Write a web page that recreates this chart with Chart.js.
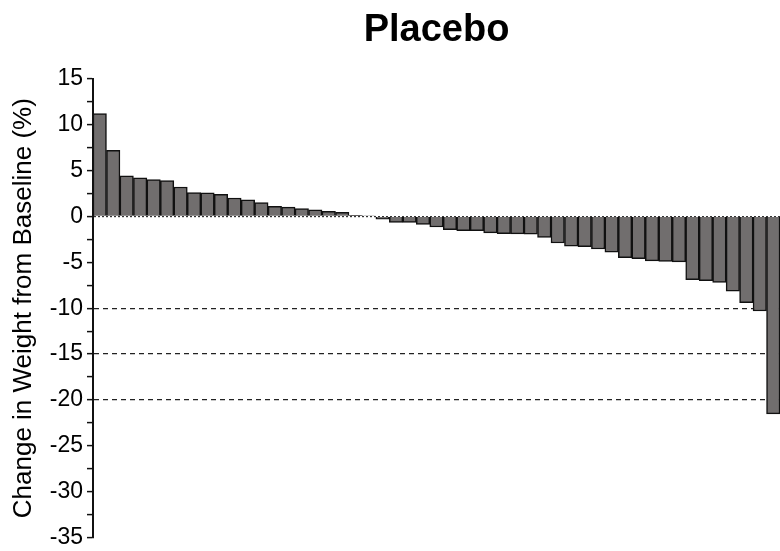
<!DOCTYPE html>
<html>
<head>
<meta charset="utf-8">
<script src="https://cdn.jsdelivr.net/npm/chart.js@4/dist/chart.umd.min.js"></script>
<style>
  html, body { margin: 0; padding: 0; background: #fff; }
  canvas { display: block; }
</style>
</head>
<body>
<canvas id="waterfallChart" width="780" height="551"></canvas>
<script>
// one bar per patient, sorted from largest gain to largest loss
const patients = Array.from({ length: 51 }, (_, i) => 'P' + (i + 1));
const weightChange = [
    11.2, 7.2, 4.4, 4.2, 4.0, 3.9, 3.2, 2.6, 2.55, 2.4,
    2.0, 1.8, 1.5, 1.1, 1.0, 0.85, 0.7, 0.55, 0.45, 0.1,
    0.07, -0.3, -0.65, -0.65, -0.87, -1.16, -1.45, -1.56, -1.56, -1.8,
    -1.88, -1.9, -1.95, -2.3, -2.9, -3.25, -3.3, -3.55, -3.9, -4.5,
    -4.6, -4.85, -4.9, -4.95, -6.9, -7.0, -7.2, -8.15, -9.4, -10.3,
    -21.5
];
const yMin = -35;
const yMax = 15;
const refLines = [-10, -15, -20];

const ctx = document.getElementById('waterfallChart').getContext('2d');
new Chart(ctx, {
    type: 'bar',
    data: {
        labels: patients,
        datasets: [{
            label: 'Placebo',
            data: weightChange,
            backgroundColor: '#716e6e',
            borderColor: '#111111',
            borderWidth: 1.5,
            barPercentage: 1,
            categoryPercentage: 1
        }]
    },
    options: {
        responsive: false,
        animation: false,
        layout: { padding: { top: 0, right: 0, bottom: 10, left: 0 } },
        plugins: {
            legend: { display: false },
            tooltip: { enabled: false },
            title: {
                display: true,
                fullSize: false,
                text: 'Placebo',
                color: '#000',
                font: { family: 'Liberation Sans, Arial, sans-serif', size: 38, weight: 'bold' },
                padding: { top: 8, bottom: 25 }
            }
        },
        scales: {
            x: { display: false },
            y: {
                min: yMin,
                max: yMax,
                z: 1,
                afterFit: scale => { scale.width = 93; },
                ticks: {
                    stepSize: 2.5,
                    color: '#000',
                    padding: 4,
                    font: { family: 'Liberation Sans, Arial, sans-serif', size: 23, lineHeight: 0.8 },
                    callback: v => (v % 5 === 0 ? v : '')
                },
                grid: {
                    drawOnChartArea: true,
                    tickLength: 6,
                    tickWidth: 1.5,
                    tickColor: '#111',
                    lineWidth: c => (c.tick && refLines.includes(c.tick.value) ? 1.3 : 1.2),
                    color: c => {
                        if (!c.tick) return 'rgba(0,0,0,0)';
                        if (c.tick.value === 0) return '#333';
                        return refLines.includes(c.tick.value) ? '#222' : 'rgba(0,0,0,0)';
                    }
                },
                border: {
                    display: true,
                    color: '#111',
                    width: 2,
                    dash: c => {
                        if (!c.tick) return [];
                        if (c.tick.value === 0) return [2, 2];
                        return [5, 4];
                    }
                },
                title: {
                    display: true,
                    text: 'Change in Weight from Baseline (%)',
                    color: '#000',
                    font: { family: 'Liberation Sans, Arial, sans-serif', size: 26 },
                    padding: { top: 8, bottom: 0 }
                }
            }
        }
    }
});
</script>
</body>
</html>
